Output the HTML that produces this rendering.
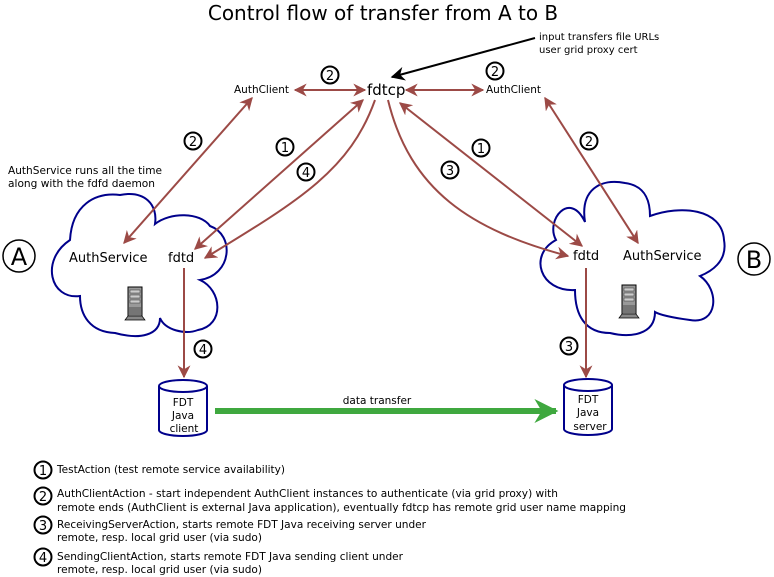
<!DOCTYPE html>
<html><head><meta charset="utf-8"><style>
html,body{margin:0;padding:0;background:#fff}
svg{display:block;font-family:"DejaVu Sans","Liberation Sans",sans-serif}
</style></head><body>
<svg width="774" height="577" viewBox="0 0 774 577" xmlns="http://www.w3.org/2000/svg">
<defs>
<marker id="r" viewBox="0 0 10 10" refX="9" refY="5" markerWidth="13" markerHeight="13" orient="auto-start-reverse" markerUnits="userSpaceOnUse"><path d="M0,0 L10,5 L0,10 L3,5 Z" fill="#9c4a46"/></marker>
<marker id="k" viewBox="0 0 10 10" refX="9" refY="5" markerWidth="14" markerHeight="14" orient="auto" markerUnits="userSpaceOnUse"><path d="M0,0 L10,5 L0,10 L3,5 Z" fill="#000"/></marker>
<marker id="g" viewBox="0 0 10 10" refX="9" refY="5" markerWidth="24" markerHeight="24" orient="auto" markerUnits="userSpaceOnUse"><path d="M0,0 L10,5 L0,10 L3,5 Z" fill="#3fa83f"/></marker>
<g id="srv">
<rect x="-5" y="0" width="14" height="30" fill="#999" stroke="#000" stroke-width="1"/>
<rect x="-3" y="3" width="10" height="3" fill="#ccc" stroke="#333" stroke-width=".5"/>
<rect x="-3" y="8" width="10" height="3" fill="#ccc" stroke="#333" stroke-width=".5"/>
<rect x="-3" y="13" width="10" height="3" fill="#ccc" stroke="#333" stroke-width=".5"/>
<path d="M-3,20 v8 M-1,20 v8 M1,20 v8 M3,20 v8 M5,20 v8 M7,20 v8" stroke="#333" stroke-width=".7"/>
<path d="M-8,33 L-5,29 H9 L12,33 Z" fill="#888" stroke="#000" stroke-width=".7"/>
</g>
</defs>

<text x="383" y="20" font-size="20" text-anchor="middle" fill="#000">Control flow of transfer from A to B</text>
<text x="539" y="40" font-size="10" fill="#000">input transfers file URLs</text>
<text x="539" y="53" font-size="10" fill="#000">user grid proxy cert</text>
<line x1="535" y1="38" x2="392" y2="77" stroke="#000" stroke-width="2" marker-end="url(#k)"/>

<!-- clouds -->
<path d="M80,296 C50,300 40,260 70,240 C72,205 95,192 120,195 C145,190 158,205 155,224 C170,212 200,212 210,226 C235,235 232,275 200,280 C222,290 225,325 198,330 C185,335 165,330 160,318 C160,335 140,340 115,333 C90,332 80,315 80,296 Z" fill="none" stroke="#00008b" stroke-width="2"/>
<path d="M575,290 C540,292 528,255 556,240 C545,220 570,190 585,222 C580,190 600,178 625,183 C648,186 650,205 650,216 C680,205 722,208 724,240 C728,262 710,272 700,276 C720,290 718,325 690,320 C675,318 660,315 655,312 C655,335 630,338 610,333 C585,333 575,315 575,290 Z" fill="none" stroke="#00008b" stroke-width="2"/>

<!-- A / B -->
<circle cx="19" cy="256" r="16" fill="#fff" stroke="#000" stroke-width="1.5"/>
<text x="19" y="265" font-size="24" text-anchor="middle">A</text>
<circle cx="754" cy="259" r="16" fill="#fff" stroke="#000" stroke-width="1.5"/>
<text x="754" y="268" font-size="24" text-anchor="middle">B</text>

<text x="8" y="174" font-size="10.5" textLength="154" lengthAdjust="spacingAndGlyphs">AuthService runs all the time</text>
<text x="8" y="187" font-size="10.5" textLength="147" lengthAdjust="spacingAndGlyphs">along with the fdfd daemon</text>

<text x="69" y="262" font-size="13">AuthService</text>
<text x="168" y="262" font-size="13">fdtd</text>
<text x="573" y="260" font-size="13">fdtd</text>
<text x="623" y="260" font-size="13">AuthService</text>
<text x="367" y="95" font-size="15">fdtcp</text>
<text x="234" y="93" font-size="10.5" textLength="55" lengthAdjust="spacingAndGlyphs">AuthClient</text>
<text x="486" y="93" font-size="10.5" textLength="55" lengthAdjust="spacingAndGlyphs">AuthClient</text>

<use href="#srv" x="133" y="287"/>
<use href="#srv" x="627" y="285"/>

<!-- red arrows -->
<g stroke="#9c4a46" stroke-width="2" fill="none">
<line x1="295" y1="90" x2="365" y2="90" marker-start="url(#r)" marker-end="url(#r)"/>
<line x1="406" y1="90" x2="483" y2="90" marker-start="url(#r)" marker-end="url(#r)"/>
<line x1="252" y1="98" x2="124" y2="243" marker-start="url(#r)" marker-end="url(#r)"/>
<line x1="363" y1="100" x2="195" y2="249" marker-start="url(#r)" marker-end="url(#r)"/>
<path d="M375,100 C350,170 300,200 205,258" marker-end="url(#r)"/>
<line x1="400" y1="103" x2="582" y2="246" marker-start="url(#r)" marker-end="url(#r)"/>
<path d="M388,100 C410,190 470,230 568,256" marker-end="url(#r)"/>
<line x1="545" y1="98" x2="638" y2="243" marker-start="url(#r)" marker-end="url(#r)"/>
<line x1="184" y1="268" x2="184" y2="377" marker-end="url(#r)"/>
<line x1="586" y1="268" x2="586" y2="377" marker-end="url(#r)"/>
</g>

<!-- green -->
<line x1="215" y1="411" x2="556" y2="411" stroke="#3fa83f" stroke-width="6" marker-end="url(#g)"/>
<text x="377" y="404" font-size="10.5" text-anchor="middle">data transfer</text>

<!-- cylinders -->
<g fill="#fff" stroke="#00008b" stroke-width="2">
<path d="M159,386 V430 A24,6 0 0 0 207,430 V386"/>
<ellipse cx="183" cy="386" rx="24" ry="6"/>
<path d="M564,385 V429 A24,6 0 0 0 612,429 V385"/>
<ellipse cx="588" cy="385" rx="24" ry="6"/>
</g>
<g font-size="10.5" text-anchor="middle">
<text x="183" y="406">FDT</text><text x="183" y="419">Java</text><text x="184" y="432">client</text>
<text x="588" y="403">FDT</text><text x="588" y="416">Java</text><text x="590" y="430">server</text>
</g>

<!-- circled numbers -->
<g font-size="13" text-anchor="middle" stroke-width="2">
<circle cx="330" cy="75" r="8.5" fill="#fff" stroke="#000"/><text x="330" y="80">2</text>
<circle cx="495" cy="71" r="8.5" fill="#fff" stroke="#000"/><text x="495" y="76">2</text>
<circle cx="193" cy="141" r="8.5" fill="#fff" stroke="#000"/><text x="193" y="146">2</text>
<circle cx="589" cy="141" r="8.5" fill="#fff" stroke="#000"/><text x="589" y="146">2</text>
<circle cx="285" cy="147" r="8.5" fill="#fff" stroke="#000"/><text x="285" y="152">1</text>
<circle cx="481" cy="148" r="8.5" fill="#fff" stroke="#000"/><text x="481" y="153">1</text>
<circle cx="306" cy="172" r="8.5" fill="#fff" stroke="#000"/><text x="306" y="177">4</text>
<circle cx="450" cy="170" r="8.5" fill="#fff" stroke="#000"/><text x="450" y="175">3</text>
<circle cx="203" cy="349" r="8.5" fill="#fff" stroke="#000"/><text x="203" y="354">4</text>
<circle cx="569" cy="346" r="8.5" fill="#fff" stroke="#000"/><text x="569" y="351">3</text>
<circle cx="43" cy="470" r="8.5" fill="#fff" stroke="#000"/><text x="43" y="475">1</text>
<circle cx="43" cy="496" r="8.5" fill="#fff" stroke="#000"/><text x="43" y="501">2</text>
<circle cx="43" cy="525" r="8.5" fill="#fff" stroke="#000"/><text x="43" y="530">3</text>
<circle cx="43" cy="557" r="8.5" fill="#fff" stroke="#000"/><text x="43" y="562">4</text>
</g>

<g font-size="11">
<text x="57" y="473" textLength="228" lengthAdjust="spacingAndGlyphs">TestAction (test remote service availability)</text>
<text x="57" y="497" textLength="501" lengthAdjust="spacingAndGlyphs">AuthClientAction - start independent AuthClient instances to authenticate (via grid proxy) with</text>
<text x="57" y="511" textLength="569" lengthAdjust="spacingAndGlyphs">remote ends (AuthClient is external Java application), eventually fdtcp has remote grid user name mapping</text>
<text x="57" y="528" textLength="369" lengthAdjust="spacingAndGlyphs">ReceivingServerAction, starts remote FDT Java receiving server under</text>
<text x="57" y="541" textLength="205" lengthAdjust="spacingAndGlyphs">remote, resp. local grid user (via sudo)</text>
<text x="57" y="560" textLength="346" lengthAdjust="spacingAndGlyphs">SendingClientAction, starts remote FDT Java sending client under</text>
<text x="57" y="573" textLength="205" lengthAdjust="spacingAndGlyphs">remote, resp. local grid user (via sudo)</text>
</g>
</svg>
</body></html>
